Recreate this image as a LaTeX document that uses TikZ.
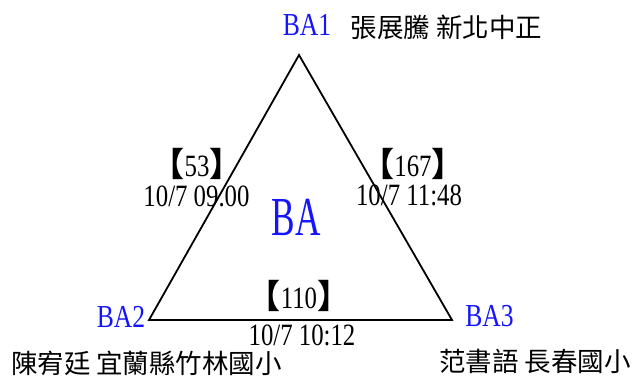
\documentclass[tikz,border=0pt]{standalone}
\usepackage{fontspec}
\setmainfont{Liberation Serif}
\newfontfamily\nar[FakeStretch=0.8]{Liberation Serif}
\newfontfamily\bignar[FakeStretch=0.64]{Liberation Serif}
\newfontfamily\cjk{Noto Sans CJK TC}
\definecolor{lblblue}{RGB}{20,20,255}
\newcommand{\lbk}{{\cjk\bfseries\fontsize{33}{33}\selectfont 【}}
\newcommand{\rbk}{{\cjk\bfseries\fontsize{33}{33}\selectfont 】}}
\begin{document}
\begin{tikzpicture}[x=1pt,y=-1pt,
  vlabel/.style={inner sep=0pt,anchor=base,text=lblblue,font=\nar\fontsize{32}{32}\selectfont},
  datelabel/.style={inner sep=0pt,anchor=base,font=\nar\fontsize{31}{31}\selectfont},
  countlabel/.style={inner sep=0pt,anchor=base,font=\nar\fontsize{31}{31}\selectfont},
  namelabel/.style={inner sep=0pt,anchor=center,font=\cjk\fontsize{26.5}{26.5}\selectfont},
  edge/.style={draw=black,line width=1.8pt,line join=miter}]
\useasboundingbox (0,0) rectangle (639,376);
\coordinate (A) at (299,55);
\coordinate (B) at (149,320);
\coordinate (C) at (452,320);
\draw[edge] (A) -- (B) -- (C) -- cycle;
\node[vlabel] (ba1) at (307,35) {BA1};
\node[vlabel] (ba2) at (121,327) {BA2};
\node[vlabel] (ba3) at (489.5,326) {BA3};
\node[inner sep=0pt,anchor=base,text=lblblue,font=\bignar\fontsize{55}{55}\selectfont] (ba) at (296,235) {BA};
\node[namelabel] (n1) at (446.5,27.5) {張展騰 新北中正};
\node[namelabel] (n2) at (146.5,363.5) {陳宥廷 宜蘭縣竹林國小};
\node[namelabel] (n3) at (535,361.5) {范書語 長春國小};
\node[countlabel] (c1) at (197,176) {\lbk53\rbk};
\node[countlabel] (c2) at (413,176) {\lbk167\rbk};
\node[countlabel] (c3) at (299,308) {\lbk110\rbk};
\node[datelabel] (d1) at (196.5,206) {10/7 09.00};
\node[datelabel] (d2) at (409,205) {10/7 11:48};
\node[datelabel] (d3) at (302,345) {10/7 10:12};
\end{tikzpicture}
\end{document}
